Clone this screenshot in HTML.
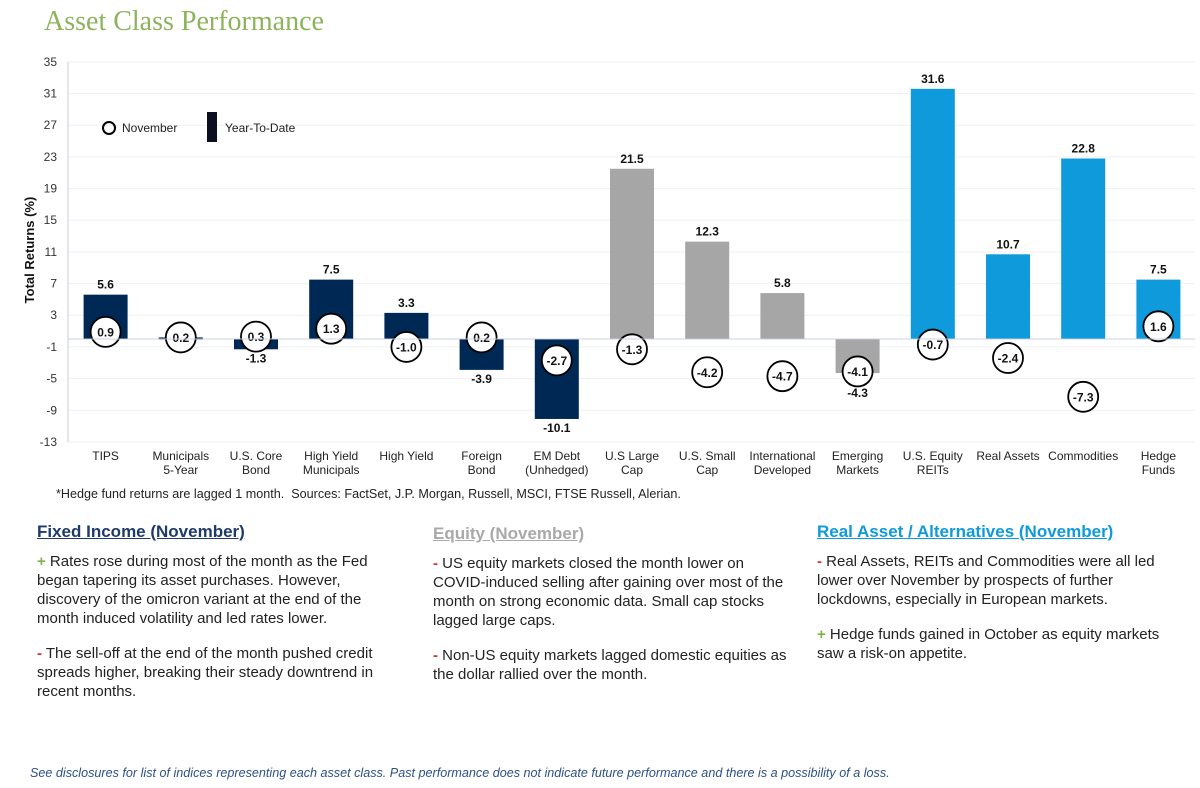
<!DOCTYPE html>
<html><head><meta charset="utf-8"><style>
body{margin:0;width:1200px;height:788px;background:#fff;font-family:"Liberation Sans",sans-serif;position:relative;overflow:hidden}
.t{position:absolute;left:44px;top:6px;font-family:"Liberation Serif",serif;font-size:28px;color:#8db35c}
.col{position:absolute;top:522px;font-size:15px;line-height:19px;color:#222}
.col h3{margin:0 0 11px 0;font-size:17px;text-decoration:underline}
.col p{margin:0 0 16px 0}
.g{color:#7fb347;font-weight:bold}.r{color:#e0312f;font-weight:bold}
.foot{position:absolute;left:30px;top:766px;font-size:12.6px;font-style:italic;color:#2d4f8a}
.src{position:absolute;left:56px;top:487px;font-size:12.6px;color:#222}
</style></head><body>
<div class="t">Asset Class Performance</div>
<svg width="1200" height="500" style="position:absolute;left:0;top:0" font-family="Liberation Sans, sans-serif">
<g id="grid" stroke="#eef0f3" stroke-width="1"></g>
<g id="c"></g>
</svg>
<div class="src">*Hedge fund returns are lagged 1 month.&nbsp; Sources: FactSet, J.P. Morgan, Russell, MSCI, FTSE Russell, Alerian.</div>
<div class="col" style="left:37px;width:360px"><h3 style="color:#1f3a6b">Fixed Income (November)</h3>
<p><span class="g">+</span> Rates rose during most of the month as the Fed began tapering its asset purchases. However, discovery of the omicron variant at the end of the month induced volatility and led rates lower.</p>
<p><span class="r">-</span> The sell-off at the end of the month pushed credit spreads higher, breaking their steady downtrend in recent months.</p></div>
<div class="col" style="left:433px;width:355px;top:524px"><h3 style="color:#a9a9a9">Equity (November)</h3>
<p><span class="r">-</span> US equity markets closed the month lower on COVID-induced selling after gaining over most of the month on strong economic data. Small cap stocks lagged large caps.</p>
<p><span class="r">-</span> Non-US equity markets lagged domestic equities as the dollar rallied over the month.</p></div>
<div class="col" style="left:817px;width:360px"><h3 style="color:#0f9bdb">Real Asset / Alternatives (November)</h3>
<p><span class="r">-</span> Real Assets, REITs and Commodities were all led lower over November by prospects of further lockdowns, especially in European markets.</p>
<p><span class="g">+</span> Hedge funds gained in October as equity markets saw a risk-on appetite.</p></div>
<div class="foot">See disclosures for list of indices representing each asset class. Past performance does not indicate future performance and there is a possibility of a loss.</div>
<script>
var Y=v=>339-v*7.917;
var g=document.getElementById('grid'),c=document.getElementById('c'),s='',h='';
for(var v=35;v>=-13;v-=4){s+='<line x1="68" x2="1195" y1="'+Y(v)+'" y2="'+Y(v)+'"/>';h+='<text x="57" y="'+(Y(v)+4)+'" font-size="12" text-anchor="end" fill="#333">'+v+'</text>';}
g.innerHTML=s;
h+='<line x1="68" x2="68" y1="62" y2="442" stroke="#c8ced8"/>';
h+='<text transform="translate(34,250) rotate(-90)" font-size="13" font-weight="bold" text-anchor="middle" fill="#111">Total Returns (%)</text>';
h+='<circle cx="109" cy="128" r="6" fill="none" stroke="#000" stroke-width="2"/><text x="122" y="132" font-size="12" fill="#222">November</text>';
h+='<rect x="207" y="112" width="10" height="30" fill="#0a1020"/><text x="225" y="132" font-size="12" fill="#222">Year-To-Date</text>';
var d=[["TIPS","",5.6,0.9,0],["Municipals","5-Year",0.2,0.2,0],["U.S. Core","Bond",-1.3,0.3,0],["High Yield","Municipals",7.5,1.3,0],["High Yield","",3.3,-1.0,0],["Foreign","Bond",-3.9,0.2,0],["EM Debt","(Unhedged)",-10.1,-2.7,0],["U.S Large","Cap",21.5,-1.3,1],["U.S. Small","Cap",12.3,-4.2,1],["International","Developed",5.8,-4.7,1],["Emerging","Markets",-4.3,-4.1,1],["U.S. Equity","REITs",31.6,-0.7,2],["Real Assets","",10.7,-2.4,2],["Commodities","",22.8,-7.3,2],["Hedge","Funds",7.5,1.6,2]];
var col=["#002855","#a6a6a6","#0f9bdb"];
d.forEach(function(e,i){var x=68+(i+0.5)*75.2,v=e[2];var y0=Y(Math.max(v,0)),y1=Y(Math.min(v,0));
h+='<rect x="'+(x-22)+'" y="'+y0+'" width="44" height="'+Math.max(y1-y0,2)+'" fill="'+col[e[4]]+'"/>';
var ly=v>=0?y0-6:y1+13;if(i==10)ly=397;
h+='<text x="'+x+'" y="'+ly+'" font-size="12" font-weight="bold" text-anchor="middle" fill="#111">'+v.toFixed(1)+'</text>';
var cy=Y(e[3]);h+='<circle cx="'+x+'" cy="'+cy+'" r="15" fill="#fff" stroke="#000" stroke-width="1.8"/><text x="'+x+'" y="'+(cy+4.5)+'" font-size="12" font-weight="bold" text-anchor="middle" fill="#111">'+e[3].toFixed(1)+'</text>';
h+='<text x="'+x+'" y="460" font-size="12" text-anchor="middle" fill="#222">'+e[0]+'</text>';
if(e[1])h+='<text x="'+x+'" y="474" font-size="12" text-anchor="middle" fill="#222">'+e[1]+'</text>';});
h+='<line x1="68" x2="1195" y1="339" y2="339" stroke="#c8d0de" stroke-width="1.5" opacity="0.6"/>';
c.innerHTML=h;
</script>
</body></html>
